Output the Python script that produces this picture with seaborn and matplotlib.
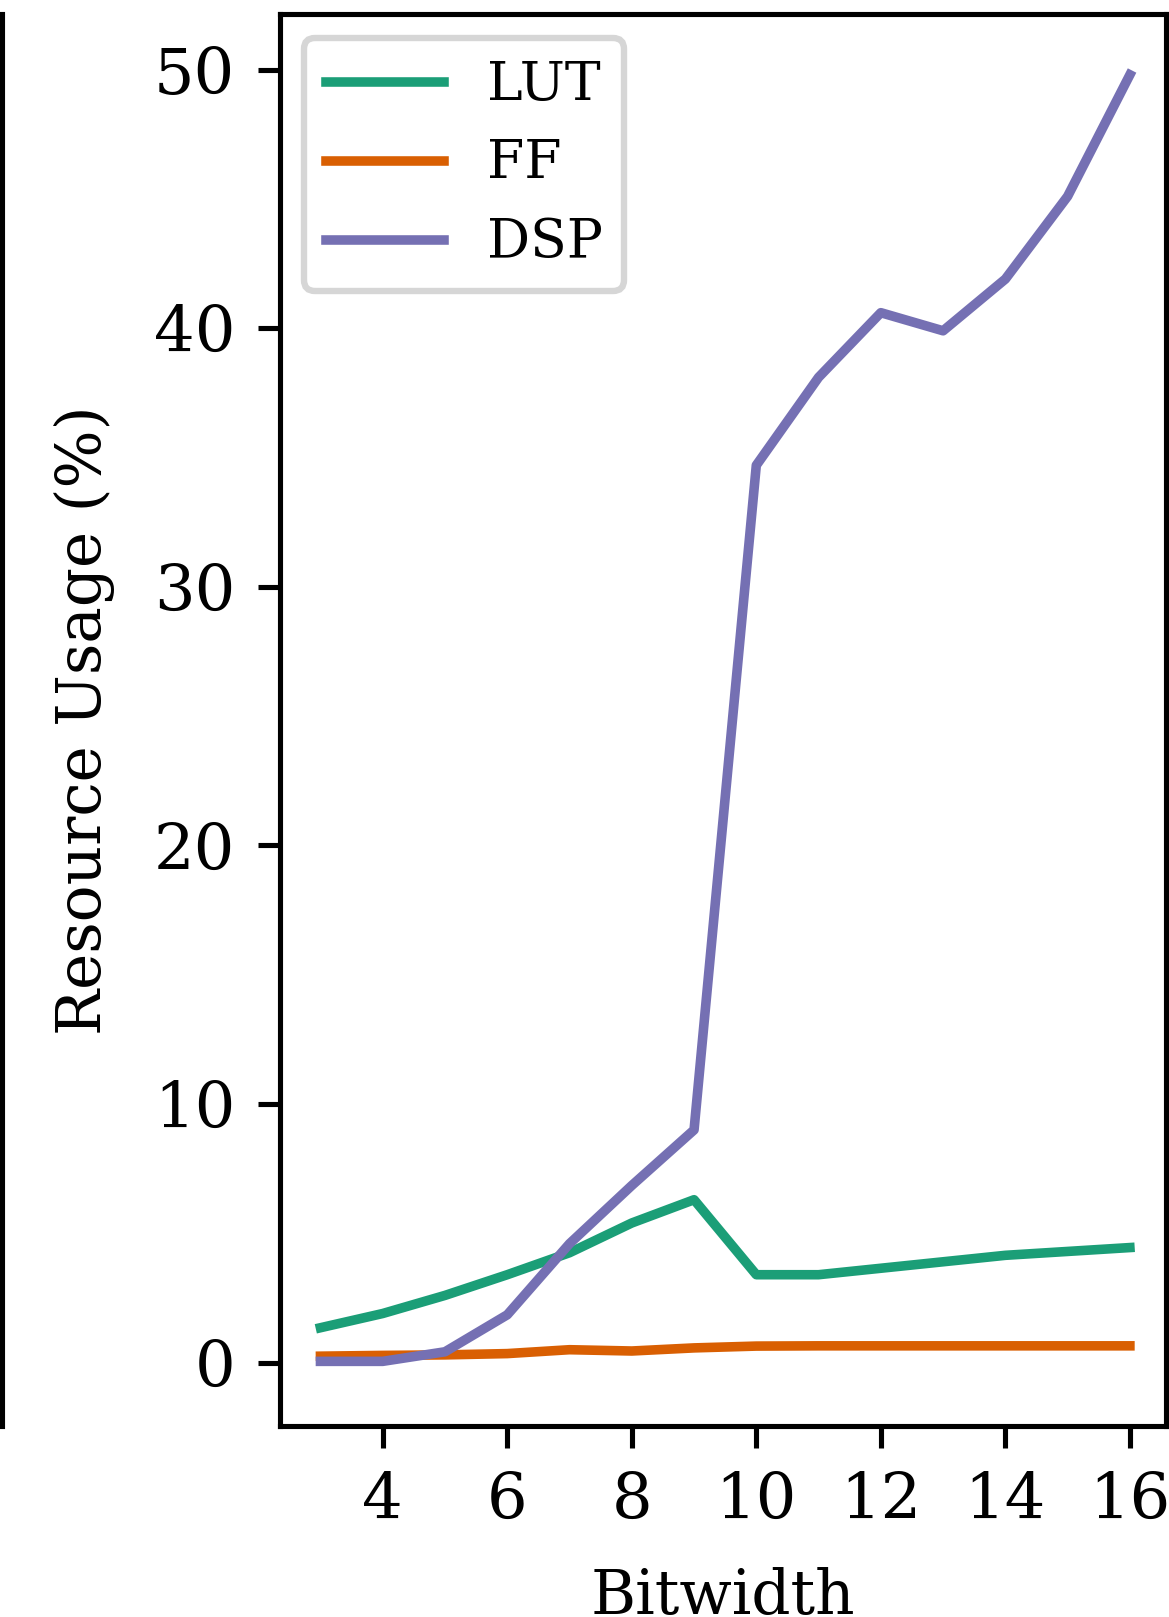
import matplotlib
matplotlib.use("Agg")
import matplotlib.pyplot as plt
import seaborn as sns
import pandas as pd

# Resource usage versus bitwidth
bitwidth = [3, 4, 5, 6, 7, 8, 9, 10, 11, 12, 13, 14, 15, 16]
lut = [1.35, 1.9, 2.6, 3.4, 4.25, 5.4, 6.3, 3.4, 3.4, 3.65, 3.9, 4.15, 4.3, 4.45]
ff = [0.25, 0.28, 0.3, 0.35, 0.5, 0.45, 0.57, 0.64, 0.65, 0.65, 0.65, 0.65, 0.65, 0.65]
dsp = [0.05, 0.05, 0.42, 1.85, 4.6, 6.85, 9.0, 34.7, 38.1, 40.6, 39.9, 41.9, 45.1, 49.8]
resources = ["LUT", "FF", "DSP"]

df = pd.concat([
    pd.DataFrame({"Bitwidth": bitwidth, "Usage": vals, "Resource": name})
    for name, vals in zip(resources, [lut, ff, dsp])
], ignore_index=True)

plt.rcParams["font.family"] = "DejaVu Serif"
plt.rcParams["font.size"] = 10

W, H, DPI = 1169, 1617, 460
fig = plt.figure(figsize=(W / DPI, H / DPI), dpi=DPI)

left, right = 280 / W, 1166 / W
top, bottom = 1 - 14 / H, 1 - 1426 / H

# neighbouring panel (only its right edge falls inside the figure)
ax_prev = fig.add_axes([-0.5, bottom, 0.5 + 2 / W, top - bottom])
ax_prev.set_xticks([])
ax_prev.set_yticks([])
for s in ("top", "bottom", "left"):
    ax_prev.spines[s].set_visible(False)

ax = fig.add_axes([left, bottom, right - left, top - bottom])
sns.lineplot(data=df, x="Bitwidth", y="Usage", hue="Resource",
             hue_order=resources, palette="Dark2", linewidth=1.5, ax=ax)
sns.move_legend(ax, "upper left", title=None, fontsize=8.4,
                handlelength=2.2, borderaxespad=0.45)

ax.set_xlim(2.35, 16.58)
ax.set_ylim(-2.45, 52.15)
ax.set_xticks([4, 6, 8, 10, 12, 14, 16])
ax.set_yticks([0, 10, 20, 30, 40, 50])
ax.set_xlabel("Bitwidth", fontsize=9.6, labelpad=5.5)
ax.set_ylabel("Resource Usage (%)", fontsize=9.6, labelpad=6)

fig.savefig("out.png", dpi=DPI)
